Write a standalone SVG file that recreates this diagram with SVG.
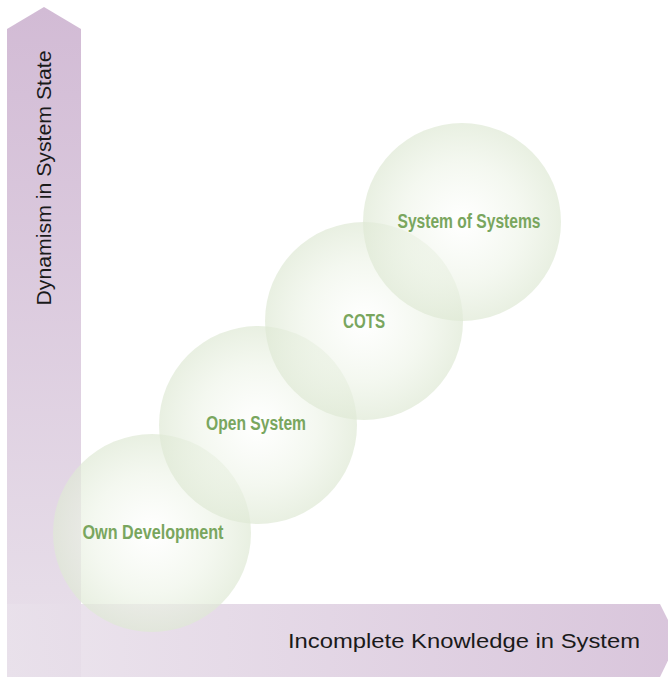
<svg xmlns="http://www.w3.org/2000/svg" width="668" height="677" viewBox="0 0 668 677">
<defs>
<linearGradient id="vg" x1="0" y1="0" x2="0" y2="1">
<stop offset="0" stop-color="#d2bbd5"/>
<stop offset="1" stop-color="#e9e1eb"/>
</linearGradient>
<linearGradient id="hg" x1="0" y1="0" x2="1" y2="0">
<stop offset="0" stop-color="#e9e1eb"/>
<stop offset="1" stop-color="#d2bbd5"/>
</linearGradient>
<radialGradient id="cg" cx="0.5" cy="0.5" r="0.5">
<stop offset="0" stop-color="#ffffff" stop-opacity="0.6"/>
<stop offset="0.6" stop-color="#eef4e8" stop-opacity="0.65"/>
<stop offset="1" stop-color="#dfe9d5" stop-opacity="0.7"/>
</radialGradient>
<style>
.axis{font-family:"Liberation Sans",Arial,sans-serif;font-size:21px;fill:#1a1a1a}
.lbl{font-family:"Liberation Sans",Arial,sans-serif;font-weight:bold;font-size:20px;fill:#79a65e;text-anchor:middle}
.c{fill:url(#cg)}
</style>
</defs>
<rect width="668" height="677" fill="#ffffff"/>
<g id="axis-y">
<polygon points="7,29 44,7 81,29 81,677 7,677" fill="url(#vg)"/>
<text class="axis" transform="translate(51,178) rotate(-90)" text-anchor="middle" textLength="255" lengthAdjust="spacingAndGlyphs">Dynamism in System State</text>
</g>
<g id="axis-x">
<polygon points="7,604 660,604 678,640 660,677 7,677" fill="url(#hg)" opacity="0.85"/>
<text class="axis" x="288" y="648" textLength="352" lengthAdjust="spacingAndGlyphs">Incomplete Knowledge in System</text>
</g>
<g id="connectors"></g>
<g id="own-development">
<circle class="c" cx="152" cy="533" r="99"/>
<text class="lbl" x="153" y="539" textLength="141" lengthAdjust="spacingAndGlyphs">Own Development</text>
</g>
<g id="open-system">
<circle class="c" cx="258" cy="425" r="99"/>
<text class="lbl" x="256" y="430" textLength="100" lengthAdjust="spacingAndGlyphs">Open System</text>
</g>
<g id="cots">
<circle class="c" cx="364" cy="321" r="99"/>
<text class="lbl" x="364" y="328" textLength="42" lengthAdjust="spacingAndGlyphs">COTS</text>
</g>
<g id="system-of-systems">
<circle class="c" cx="462" cy="222" r="99"/>
<text class="lbl" x="469" y="228" textLength="143" lengthAdjust="spacingAndGlyphs">System of Systems</text>
</g>
</svg>
